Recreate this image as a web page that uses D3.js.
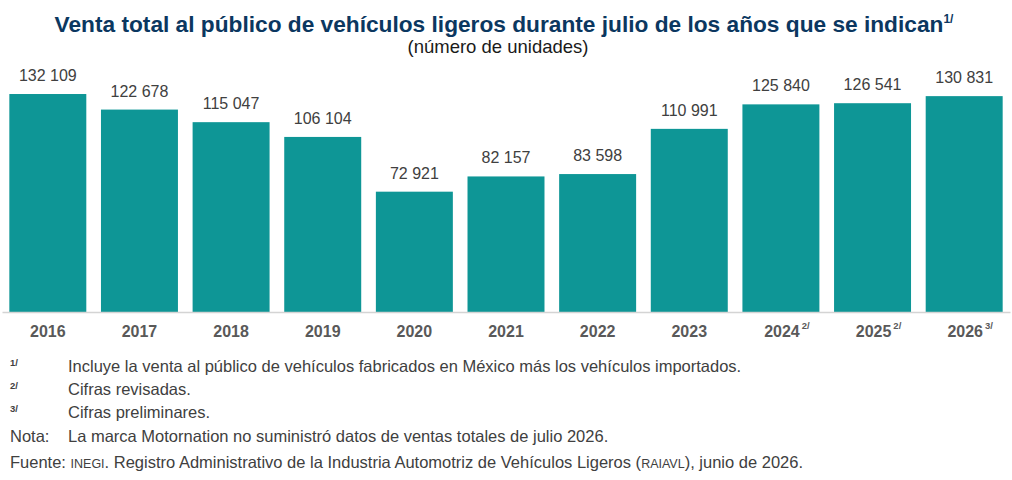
<!DOCTYPE html>
<html>
<head>
<meta charset="utf-8">
<script src="https://cdn.jsdelivr.net/npm/d3@7"></script>
<style>
  html, body { margin: 0; padding: 0; background: #fff; }
  svg { display: block; font-family: "Liberation Sans", Arial, sans-serif; }
</style>
</head>
<body>
<svg id="chart" width="1012" height="480"></svg>
<script>
const years = ["2016","2017","2018","2019","2020","2021","2022","2023","2024","2025","2026"];
const yearNotes = ["","","","","","","","","2/","2/","3/"];
const sales = [132109,122678,115047,106104,72921,82157,83598,110991,125840,126541,130831];
const titleText = "Venta total al público de vehículos ligeros durante julio de los años que se indican";
const titleNote = "1/";
const subtitleText = "(número de unidades)";
const footnotes = [
  {mark: "1/", text: "Incluye la venta al público de vehículos fabricados en México más los vehículos importados."},
  {mark: "2/", text: "Cifras revisadas."},
  {mark: "3/", text: "Cifras preliminares."}
];
const notaText = "La marca Motornation no suministró datos de ventas totales de julio 2026.";

const svg = d3.select("#chart");
const fmt = d3.formatLocale({decimal: ".", thousands: " ", grouping: [3], currency: ["$",""]}).format(",");

const x = d3.scaleBand().domain(years).range([2, 1010]).paddingInner(0.16).paddingOuter(0.08);
const y = d3.scaleLinear().domain([0, 140000]).range([312, 81]);

// Title
const t = svg.append("text").attr("x", 504).attr("y", 32).attr("text-anchor", "middle")
  .attr("fill", "#0b3760").attr("font-weight", "bold").attr("font-size", 22.7);
t.append("tspan").text(titleText);
t.append("tspan").attr("font-size", 12).attr("dy", -9).text(titleNote);

svg.append("text").attr("x", 498).attr("y", 53).attr("text-anchor", "middle")
  .attr("fill", "#1a1a1a").attr("font-size", 18.5).text(subtitleText);

// Bars
svg.append("g").selectAll("rect").data(years).join("rect")
  .attr("x", d => x(d)).attr("width", x.bandwidth())
  .attr("y", (d, i) => y(sales[i])).attr("height", (d, i) => y(0) - y(sales[i]))
  .attr("fill", "#0e9696");

// Value labels
svg.append("g").selectAll("text").data(years).join("text")
  .attr("x", d => x(d) + x.bandwidth() / 2)
  .attr("y", (d, i) => y(sales[i]) - 13)
  .attr("text-anchor", "middle").attr("font-size", 16).attr("fill", "#404040")
  .text((d, i) => fmt(sales[i]));

// Axis
const axis = svg.append("g").attr("transform", "translate(0,312)")
  .call(d3.axisBottom(x).tickSize(0).tickSizeOuter(0).tickFormat(""));
axis.select(".domain").attr("stroke", "#d4d4d4").attr("stroke-width", 1.5);
axis.selectAll(".tick text").remove();
axis.selectAll(".tick").each(function(d, i) {
  const g = d3.select(this);
  const tx = g.append("text").attr("y", 25).attr("dy", 0)
    .attr("text-anchor", "middle").attr("font-size", 16).attr("font-weight", "bold")
    .attr("fill", "#595959").attr("font-family", "'Liberation Sans', Arial, sans-serif");
  tx.append("tspan").text(d);
  if (yearNotes[i]) {
    tx.attr("dx", 6);
    tx.append("tspan").attr("font-size", 9.5).attr("dy", -8).attr("dx", 2).text(yearNotes[i]);
  }
});

// Footnotes
const fs = 16.5;
const fy = [372, 395, 418];
footnotes.forEach((f, i) => {
  svg.append("text").attr("x", 10).attr("y", fy[i] - 6).attr("font-size", 9.5)
    .attr("font-weight", "bold").attr("fill", "#404040").text(f.mark);
  svg.append("text").attr("x", 68).attr("y", fy[i]).attr("font-size", fs)
    .attr("fill", "#404040").text(f.text);
});
svg.append("text").attr("x", 10).attr("y", 442).attr("font-size", fs).attr("fill", "#404040").text("Nota:");
svg.append("text").attr("x", 68).attr("y", 442).attr("font-size", fs).attr("fill", "#404040").text(notaText);

const fu = svg.append("text").attr("x", 10).attr("y", 468).attr("font-size", fs).attr("fill", "#404040");
fu.append("tspan").text("Fuente: ");
fu.append("tspan").attr("font-size", 12.5).text("INEGI");
fu.append("tspan").text(". Registro Administrativo de la Industria Automotriz de Vehículos Ligeros (");
fu.append("tspan").attr("font-size", 12.5).text("RAIAVL");
fu.append("tspan").text("), junio de 2026.");
</script>
</body>
</html>
